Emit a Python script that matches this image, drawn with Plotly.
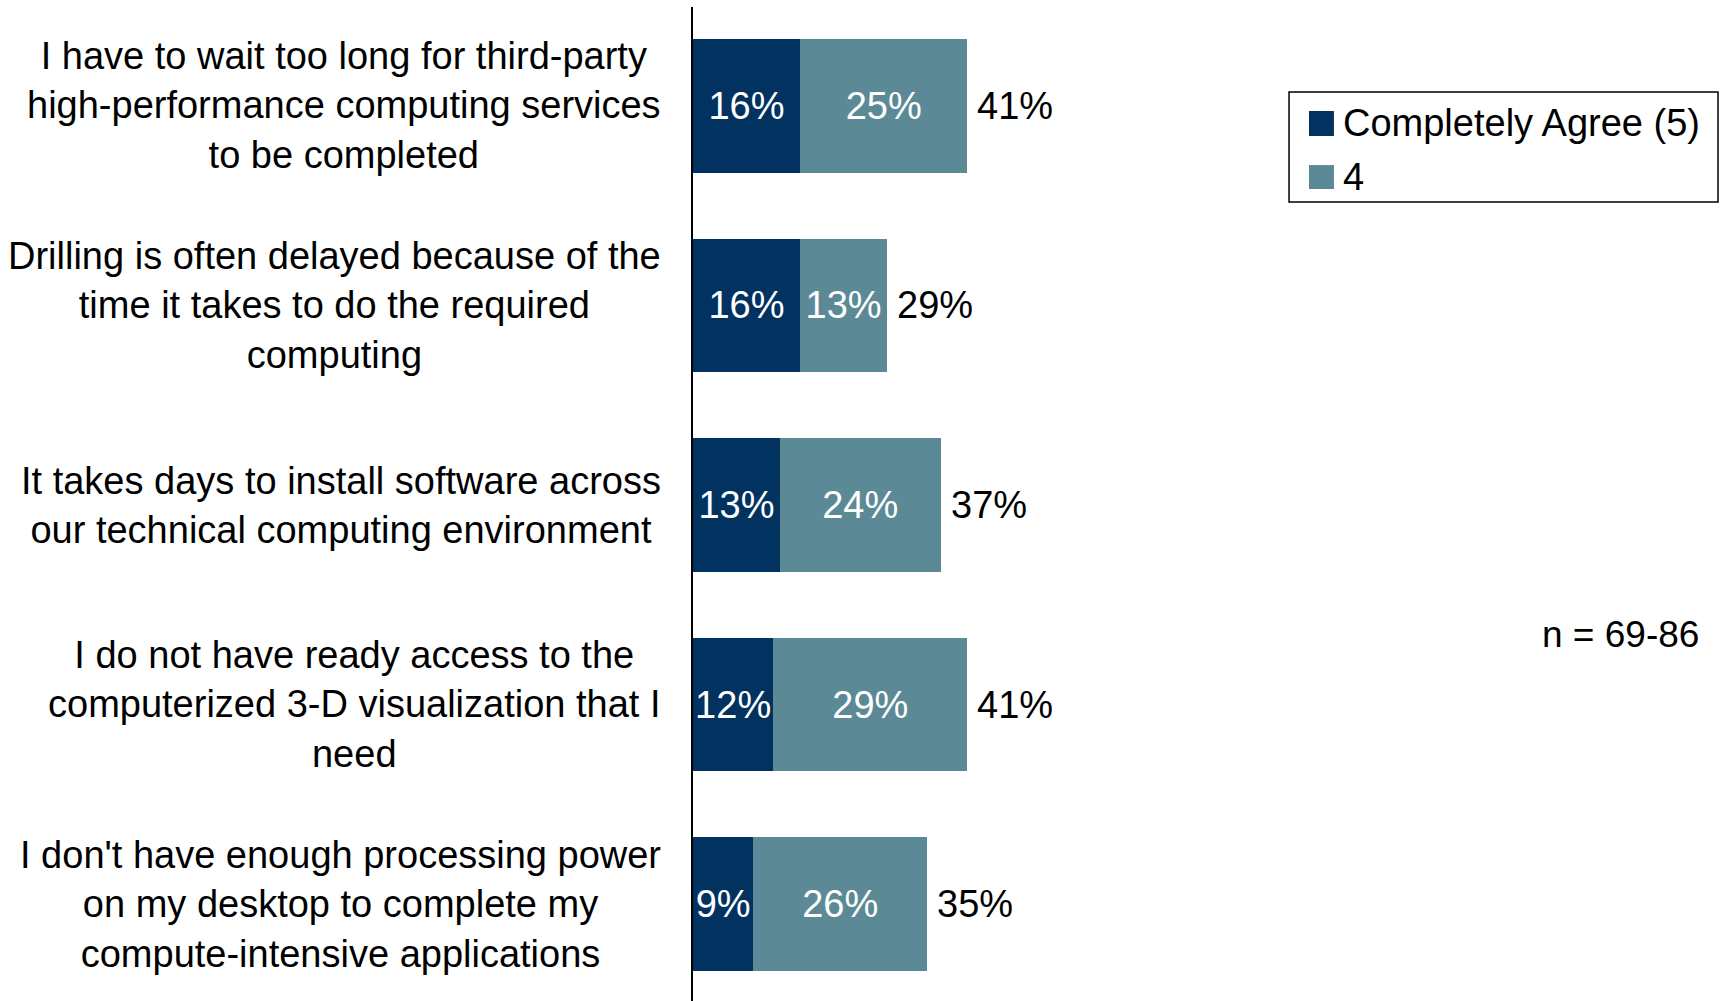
import plotly.graph_objects as go

categories = [
    "I have to wait too long for third-party<br>high-performance computing services<br>to be completed",
    "Drilling is often delayed because of the<br>time it takes to do the required<br>computing",
    "It takes days to install software across<br>our technical computing environment",
    "I do not have ready access to the<br>computerized 3-D visualization that I<br>need",
    "I don't have enough processing power<br>on my desktop to complete my<br>compute-intensive applications",
]
completely_agree = [16, 16, 13, 12, 9]
agree_4 = [25, 13, 24, 29, 26]
totals = [41, 29, 37, 41, 35]
series_names = ["Completely Agree (5)", "4"]
note_text = "n = 69-86"

DARK = "#02325F"
LIGHT = "#5B8A96"
FONT = "Liberation Sans, Arial, sans-serif"
FS = 38

idx = list(range(len(categories)))

fig = go.Figure()
fig.add_trace(go.Bar(
    y=idx, x=completely_agree, orientation="h", name=series_names[0],
    marker=dict(color=DARK, line=dict(width=0)), width=0.67,
    text=[f"{v}%" for v in completely_agree], textposition="inside",
    insidetextanchor="middle", textangle=0,
    textfont=dict(color="white", size=FS, family=FONT),
    showlegend=False, hoverinfo="skip",
))
fig.add_trace(go.Bar(
    y=idx, x=agree_4, orientation="h", name=series_names[1],
    marker=dict(color=LIGHT, line=dict(width=0)), width=0.67,
    text=[f"{v}%" for v in agree_4], textposition="inside",
    insidetextanchor="middle", textangle=0,
    textfont=dict(color="white", size=FS, family=FONT),
    showlegend=False, hoverinfo="skip",
))

annotations = []
# category labels
for i, c in enumerate(categories):
    annotations.append(dict(
        x=0, xref="paper", y=i, yref="y", text=c, showarrow=False,
        xanchor="right", yanchor="middle", align="center", xshift=-30,
        font=dict(size=FS, family=FONT, color="black"),
    ))
# totals
for i, t in enumerate(totals):
    annotations.append(dict(
        x=t, xref="x", y=i, yref="y", text=f"{t}%", showarrow=False,
        xanchor="left", yanchor="middle", xshift=8,
        font=dict(size=FS, family=FONT, color="black"),
    ))
# note
annotations.append(dict(
    x=0.981, xref="paper", y=0.369, yref="paper", text=note_text, showarrow=False,
    xanchor="right", yanchor="middle",
    font=dict(size=37, family=FONT, color="black"),
))
# custom legend text
annotations.append(dict(
    x=0.630, xref="paper", y=0.8833, yref="paper", text=series_names[0], showarrow=False,
    xanchor="left", yanchor="middle", font=dict(size=FS, family=FONT, color="black"),
))
annotations.append(dict(
    x=0.630, xref="paper", y=0.8290, yref="paper", text=series_names[1], showarrow=False,
    xanchor="left", yanchor="middle", font=dict(size=FS, family=FONT, color="black"),
))

shapes = [
    dict(type="rect", xref="paper", yref="paper", x0=0.5798, x1=0.9971, y0=0.8038, y1=0.9145,
         line=dict(color="black", width=1.5), fillcolor="white", layer="below"),
    dict(type="rect", xref="paper", yref="paper", x0=0.5992, x1=0.6235, y0=0.8702, y1=0.8954,
         line=dict(width=0), fillcolor=DARK),
    dict(type="rect", xref="paper", yref="paper", x0=0.5992, x1=0.6235, y0=0.8169, y1=0.8410,
         line=dict(width=0), fillcolor=LIGHT),
]

fig.update_layout(
    barmode="stack",
    width=1721, height=1001,
    margin=dict(l=693, r=0, t=7, b=0, pad=0),
    paper_bgcolor="white", plot_bgcolor="white",
    font=dict(family=FONT, size=FS, color="black"),
    uniformtext=dict(mode="show", minsize=FS),
    annotations=annotations,
    shapes=shapes,
    showlegend=False,
)
fig.update_xaxes(range=[0, 1028 / 6.69], visible=False, showgrid=False, zeroline=False, fixedrange=True)
fig.update_yaxes(range=[4.486, -0.496], showticklabels=False, showgrid=False, zeroline=False,
                 showline=True, linecolor="black", linewidth=2, ticks="", fixedrange=True)

fig.write_html("out.html")
